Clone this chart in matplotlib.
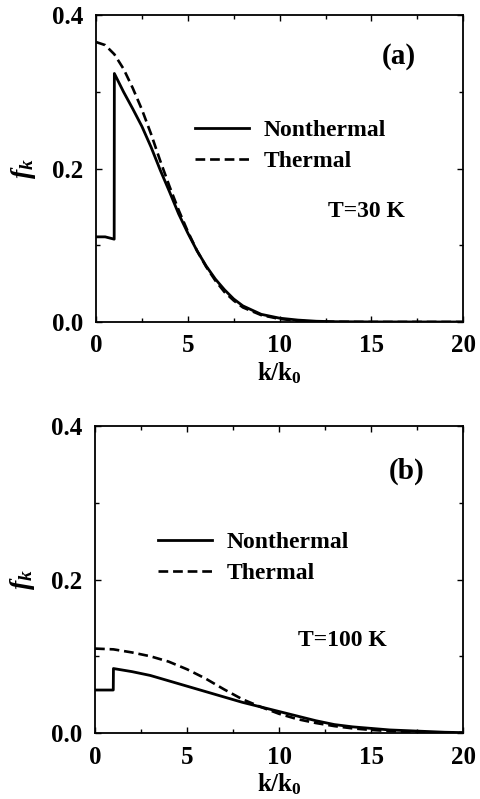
import matplotlib
matplotlib.use("Agg")
import matplotlib.pyplot as plt
from matplotlib.ticker import MultipleLocator

plt.rcParams['font.family'] = ['Liberation Serif', 'DejaVu Serif']
plt.rcParams['font.weight'] = 'bold'
plt.rcParams['mathtext.fontset'] = 'custom'
plt.rcParams['mathtext.rm'] = 'Liberation Serif:bold'
plt.rcParams['mathtext.it'] = 'Liberation Serif:italic:bold'
plt.rcParams['mathtext.bf'] = 'Liberation Serif:bold'
plt.rcParams['lines.scale_dashes'] = False

# ---- panel (a): T = 30 K ----
k_nt_a = [0, 0.5, 0.99, 1.0, 1.5, 2, 2.5, 3, 3.5, 4, 4.5, 5, 5.5, 6, 6.5, 7, 7.5,
          8, 9, 10, 11, 12, 13, 15, 20]
f_nt_a = [0.111, 0.111, 0.108, 0.324, 0.300, 0.278, 0.255, 0.228, 0.198, 0.170,
          0.141, 0.116, 0.093, 0.073, 0.056, 0.042, 0.030, 0.021, 0.010, 0.005,
          0.0025, 0.001, 0.0004, 0.0001, 0.0]
k_th_a = [0, 0.5, 1, 1.5, 2, 2.5, 3, 3.5, 4, 4.5, 5, 5.5, 6, 6.5, 7, 7.5, 8, 9,
          10, 11, 12, 13, 15, 20]
f_th_a = [0.365, 0.361, 0.349, 0.330, 0.305, 0.277, 0.245, 0.210, 0.177, 0.146,
          0.118, 0.093, 0.072, 0.054, 0.039, 0.028, 0.019, 0.009, 0.004, 0.0015,
          0.0005, 0.0002, 0.0, 0.0]

# ---- panel (b): T = 100 K ----
k_nt_b = [0, 0.99, 1.0, 2, 3, 4, 5, 6, 7, 8, 9, 10, 11, 12, 13, 14, 15, 16, 17,
          18, 19, 20]
f_nt_b = [0.056, 0.056, 0.084, 0.080, 0.075, 0.068, 0.061, 0.054, 0.047, 0.040,
          0.034, 0.028, 0.022, 0.016, 0.011, 0.008, 0.006, 0.004, 0.003, 0.002,
          0.001, 0.0005]
k_th_b = [0, 1, 2, 3, 4, 5, 6, 7, 8, 9, 10, 11, 12, 13, 14, 15, 16, 17, 18, 19, 20]
f_th_b = [0.110, 0.109, 0.105, 0.100, 0.093, 0.083, 0.071, 0.057, 0.044, 0.034,
          0.025, 0.018, 0.013, 0.009, 0.006, 0.004, 0.0025, 0.0015, 0.001, 0.0005,
          0.0002]

panels = [
    dict(knt=k_nt_a, fnt=f_nt_a, kth=k_th_a, fth=f_th_a, tag='(a)', temp='T=30 K',
         rect=[0.200, 0.597, 0.765, 0.384], leg=(0.27, 0.66), tagxy=(0.826, 0.864),
         txy=(0.632, 0.36)),
    dict(knt=k_nt_b, fnt=f_nt_b, kth=k_th_b, fth=f_th_b, tag='(b)', temp='T=100 K',
         rect=[0.198, 0.0826, 0.767, 0.3842], leg=(0.171, 0.655), tagxy=(0.845, 0.854),
         txy=(0.55, 0.30)),
]

fig = plt.figure(figsize=(4.8, 7.99), dpi=100)
for p in panels:
    ax = fig.add_axes(p['rect'])
    ax.plot(p['knt'], p['fnt'], color='black', lw=2.0, label='Nonthermal')
    ax.plot(p['kth'], p['fth'], color='black', lw=1.9, dashes=(7, 3.5), label='Thermal')
    ax.set_xlim(0, 20)
    ax.set_ylim(0, 0.4)
    ax.xaxis.set_major_locator(MultipleLocator(5))
    ax.xaxis.set_minor_locator(MultipleLocator(2.5))
    ax.yaxis.set_major_locator(MultipleLocator(0.2))
    ax.yaxis.set_minor_locator(MultipleLocator(0.1))
    ax.set_xticks([0, 5, 10, 15, 20])
    ax.set_xticklabels(['0', '5', '10', '15', '20'])
    ax.set_yticks([0.0, 0.2, 0.4])
    ax.set_yticklabels(['0.0', '0.2', '0.4'])
    ax.tick_params(which='both', direction='in', top=True, right=True, width=1.0,
                   labelsize=18, pad=9)
    ax.tick_params(which='major', length=4)
    ax.tick_params(which='minor', length=3)
    for s in ax.spines.values():
        s.set_linewidth(1.3)
    ax.set_xlabel(r'k/k$_0$', fontsize=18, fontweight='bold', labelpad=2)
    ax.set_ylabel(r'$f_k$', fontsize=20, fontweight='bold', labelpad=10)
    ax.legend(loc='upper left', bbox_to_anchor=p['leg'], frameon=False,
              prop={'size': 17, 'weight': 'bold'},
              handlelength=2.3, handletextpad=0.6, labelspacing=0.4,
              borderaxespad=0, borderpad=0)
    ax.text(*p['tagxy'], p['tag'], transform=ax.transAxes, fontsize=21,
            ha='center', va='center')
    ax.text(*p['txy'], p['temp'], transform=ax.transAxes, fontsize=17,
            ha='left', va='center')

fig.savefig('out.png', dpi=100)
